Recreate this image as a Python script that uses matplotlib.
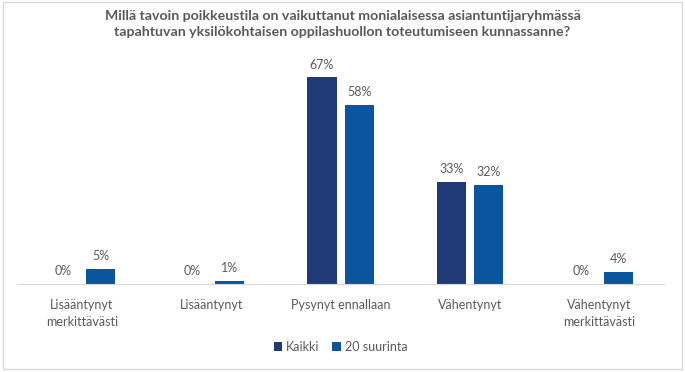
import matplotlib
matplotlib.use("Agg")
import matplotlib.pyplot as plt
import numpy as np
from matplotlib.patches import Rectangle

categories = ["Lisääntynyt\nmerkittävästi", "Lisääntynyt", "Pysynyt ennallaan", "Vähentynyt", "Vähentynyt\nmerkittävästi"]
kaikki = [0, 0, 67, 33, 0]
suurinta = [5, 1, 58, 32, 4]
series_names = ["Kaikki", "20 suurinta"]
title = "Millä tavoin poikkeustila on vaikuttanut monialaisessa asiantuntijaryhmässä\ntapahtuvan yksilökohtaisen oppilashuollon toteutumiseen kunnassanne?"

c1 = "#203A78"
c2 = "#0A559E"
txt = "#595959"

plt.rcParams['font.family'] = ['Lato', 'DejaVu Sans']

fig = plt.figure(figsize=(6.85, 3.72), dpi=100)
fig.patches.append(Rectangle((0.004, 0.008), 0.991, 0.986, transform=fig.transFigure,
                             fill=False, edgecolor="#D9D9D9", linewidth=1))
ax = fig.add_axes([0.0248, 0.2366, 0.945, 0.58])

x = np.arange(len(categories))
w = 0.225
gap = 0.064
b1 = ax.bar(x - (w + gap) / 2, kaikki, w, color=c1, label=series_names[0])
b2 = ax.bar(x + (w + gap) / 2, suurinta, w, color=c2, label=series_names[1])
for bars, vals in ((b1, kaikki), (b2, suurinta)):
    for b, v in zip(bars, vals):
        ax.annotate(f"{v}%", (b.get_x() + b.get_width() / 2, v), xytext=(0, 5),
                    textcoords="offset points", ha="center", va="bottom",
                    fontsize=9, color=txt)

ax.set_xlim(-0.5, len(categories) - 0.5)
ax.set_ylim(0, 70)
ax.set_yticks([])
ax.set_xticks(x)
ax.set_xticklabels(categories, fontsize=9, color=txt, linespacing=1.45)
ax.tick_params(axis='x', length=0, pad=11)
for s in ["top", "right", "left"]:
    ax.spines[s].set_visible(False)
ax.spines["bottom"].set_color("#D9D9D9")

fig.text(0.5, 0.935, title, ha="center", va="center", fontsize=10.2,
         fontweight="bold", color=txt, linespacing=1.35)

fig.legend(loc="center", bbox_to_anchor=(0.497, 0.067), ncol=2, frameon=False,
           fontsize=9, labelcolor=txt, handlelength=0.7, handleheight=0.7,
           handletextpad=0.3, columnspacing=1.0)

fig.savefig("out.png", dpi=100)
